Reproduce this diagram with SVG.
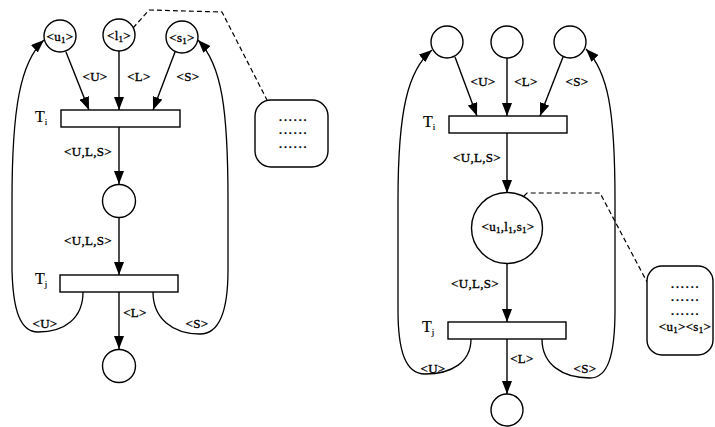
<svg xmlns="http://www.w3.org/2000/svg" width="715" height="427" viewBox="0 0 715 427">
<defs>
<marker id="ah" markerUnits="userSpaceOnUse" markerWidth="14" markerHeight="10" viewBox="0 0 14 10" refX="13" refY="5" orient="auto">
<path d="M0,0 L13,5 L0,10 Z" fill="#000"/>
</marker>
<style>
.pl{fill:#fff;stroke:#000;stroke-width:1.4}
.tr{fill:#fff;stroke:#000;stroke-width:1.4}
.ar{fill:none;stroke:#000;stroke-width:1.4;marker-end:url(#ah)}
.cv{fill:none;stroke:#000;stroke-width:1.3}
.ds{fill:none;stroke:#000;stroke-width:1.2;stroke-dasharray:5,3}
.bx{fill:#fff;stroke:#000;stroke-width:1.4}
text{font-family:"Liberation Serif","Times New Roman",serif;font-size:13px;fill:#000;stroke:#000;stroke-width:0.35;text-anchor:middle;letter-spacing:0.3px}
.tl{font-size:16px;text-anchor:start;letter-spacing:0;stroke-width:0.2}
.dt{font-size:10px;letter-spacing:2.4px;font-weight:bold}
.sb{font-size:9px}
</style>
</defs>

<g id="connectors">
<!-- left diagram -->
<line class="ar" x1="66" y1="52" x2="89" y2="110"/>
<line class="ar" x1="119" y1="51" x2="119" y2="110"/>
<line class="ar" x1="175" y1="52" x2="153" y2="110"/>
<line class="ar" x1="119" y1="127" x2="119" y2="184"/>
<line class="ar" x1="119" y1="218" x2="119" y2="275"/>
<line class="ar" x1="119" y1="292" x2="119" y2="349"/>
<path class="cv" d="M83,292 C83,318 65,332 38,332 C20,332 13,310 12,270 L12,200 C12,110 20,62 44,40" marker-end="url(#ah)"/>
<path class="cv" d="M153,292 C153,318 172,334 200,334 C220,334 228,310 228,270 L228,200 C228,110 222,65 198,40" marker-end="url(#ah)"/>
<path class="ds" d="M133,28 L149,10 L222,12 L267,100"/>
<!-- right diagram -->
<line class="ar" x1="455" y1="57" x2="477" y2="116"/>
<line class="ar" x1="507" y1="58" x2="507" y2="116"/>
<line class="ar" x1="563" y1="57" x2="540" y2="116"/>
<line class="ar" x1="507" y1="133" x2="507" y2="193"/>
<line class="ar" x1="507" y1="263" x2="507" y2="322"/>
<line class="ar" x1="507" y1="339" x2="507" y2="394"/>
<path class="cv" d="M471,339 C471,362 452,374 425,374 C405,374 398,350 398,310 L398,200 C398,110 408,70 432,50" marker-end="url(#ah)"/>
<path class="cv" d="M542,339 C542,364 562,378 590,378 C608,378 615,355 615,310 L615,200 C615,110 608,72 586,49" marker-end="url(#ah)"/>
<path class="ds" d="M507,213 L527,193 L600,193 L647,282"/>
</g>

<g id="left-u1"><circle class="pl" cx="60" cy="36" r="16"/><text x="60" y="41">&lt;u<tspan class="sb" dy="2">1</tspan><tspan dy="-2">&gt;</tspan></text></g>
<g id="left-l1"><circle class="pl" cx="119" cy="35" r="16"/><text x="119" y="40">&lt;l<tspan class="sb" dy="2">1</tspan><tspan dy="-2">&gt;</tspan></text></g>
<g id="left-s1"><circle class="pl" cx="182" cy="37" r="16"/><text x="182" y="42">&lt;s<tspan class="sb" dy="2">1</tspan><tspan dy="-2">&gt;</tspan></text></g>
<g id="left-Ti"><rect class="tr" x="61" y="110" width="119" height="17"/><text class="tl" x="35" y="122">T<tspan class="sb" font-size="11" dy="3">i</tspan></text></g>
<g id="left-mid"><circle class="pl" cx="119" cy="201" r="16.5"/></g>
<g id="left-Tj"><rect class="tr" x="60" y="275" width="118" height="17"/><text class="tl" x="35" y="284">T<tspan class="sb" font-size="11" dy="3">j</tspan></text></g>
<g id="left-out"><circle class="pl" cx="119" cy="366" r="16.5"/></g>
<g id="left-box"><rect class="bx" x="255" y="100" width="73" height="67" rx="16"/>
<text class="dt" x="294" y="121">......</text><text class="dt" x="294" y="134">......</text><text class="dt" x="294" y="148">......</text></g>

<g id="left-labels">
<text x="95" y="81">&lt;U&gt;</text>
<text x="139" y="81">&lt;L&gt;</text>
<text x="188" y="81">&lt;S&gt;</text>
<text x="88" y="156">&lt;U,L,S&gt;</text>
<text x="88" y="245">&lt;U,L,S&gt;</text>
<text x="135" y="317">&lt;L&gt;</text>
<text x="45" y="328">&lt;U&gt;</text>
<text x="197" y="328">&lt;S&gt;</text>
</g>

<g id="right-p1"><circle class="pl" cx="447" cy="42" r="16"/></g>
<g id="right-p2"><circle class="pl" cx="507" cy="42" r="16"/></g>
<g id="right-p3"><circle class="pl" cx="570" cy="42" r="16"/></g>
<g id="right-Ti"><rect class="tr" x="449" y="116" width="118" height="17"/><text class="tl" x="423" y="127">T<tspan class="sb" font-size="11" dy="3">i</tspan></text></g>
<g id="right-mid"><circle class="pl" cx="507" cy="228" r="35.5"/><text x="508" y="231">&lt;u<tspan class="sb" dy="2">1</tspan><tspan dy="-2">,l</tspan><tspan class="sb" dy="2">1</tspan><tspan dy="-2">,s</tspan><tspan class="sb" dy="2">1</tspan><tspan dy="-2">&gt;</tspan></text></g>
<g id="right-Tj"><rect class="tr" x="448" y="322" width="118" height="17"/><text class="tl" x="422" y="332">T<tspan class="sb" font-size="11" dy="3">j</tspan></text></g>
<g id="right-out"><circle class="pl" cx="507" cy="410" r="16"/></g>
<g id="right-box"><rect class="bx" x="647" y="266" width="66" height="89" rx="15"/>
<text class="dt" x="686" y="288">......</text><text class="dt" x="686" y="301">......</text><text class="dt" x="686" y="315">......</text>
<text x="685" y="331" font-size="12">&lt;u<tspan class="sb" dy="2">1</tspan><tspan dy="-2">&gt;&lt;s</tspan><tspan class="sb" dy="2">1</tspan><tspan dy="-2">&gt;</tspan></text></g>

<g id="right-labels">
<text x="483" y="86">&lt;U&gt;</text>
<text x="526" y="86">&lt;L&gt;</text>
<text x="577" y="86">&lt;S&gt;</text>
<text x="477" y="162">&lt;U,L,S&gt;</text>
<text x="475" y="288">&lt;U,L,S&gt;</text>
<text x="522" y="363">&lt;L&gt;</text>
<text x="433" y="373">&lt;U&gt;</text>
<text x="585" y="373">&lt;S&gt;</text>
</g>
</svg>
